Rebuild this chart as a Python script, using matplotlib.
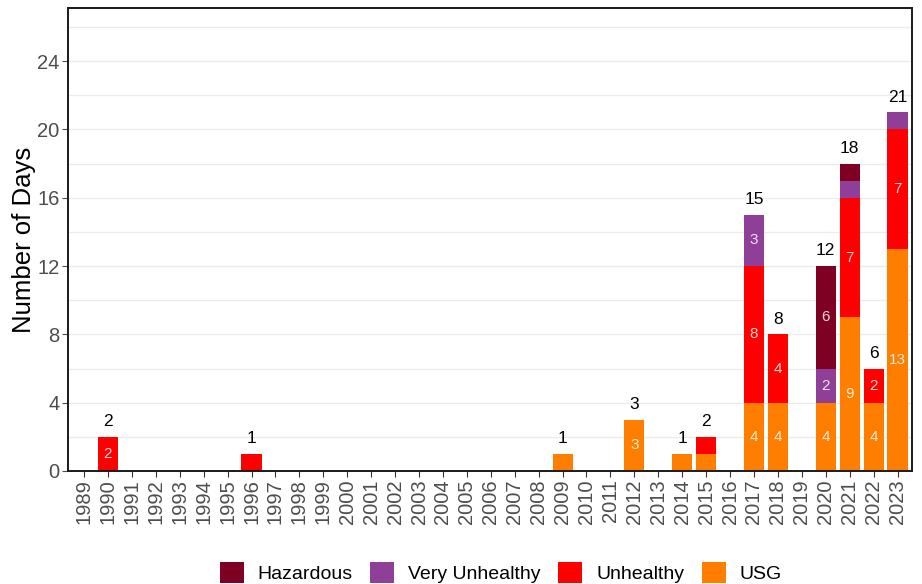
import numpy as np
import matplotlib.pyplot as plt
from matplotlib.patches import Patch

plt.rcParams['font.family'] = ['Liberation Sans', 'DejaVu Sans']

years = list(range(1989, 2024))
categories = ["USG", "Unhealthy", "Very Unhealthy", "Hazardous"]
colors = {"Hazardous": "#7E0023", "Very Unhealthy": "#8F3F97",
          "Unhealthy": "#FF0000", "USG": "#FF7E00"}

# days per year for each category (only years with any days)
usg = {2009: 1, 2012: 3, 2014: 1, 2015: 1, 2017: 4, 2018: 4, 2020: 4,
       2021: 9, 2022: 4, 2023: 13}
unhealthy = {1990: 2, 1996: 1, 2015: 1, 2017: 8, 2018: 4, 2021: 7,
             2022: 2, 2023: 7}
very_unhealthy = {2017: 3, 2020: 2, 2021: 1, 2023: 1}
hazardous = {2020: 6, 2021: 1}

series = {"USG": usg, "Unhealthy": unhealthy,
          "Very Unhealthy": very_unhealthy, "Hazardous": hazardous}

fig = plt.figure(figsize=(9.22, 5.84), dpi=100)
ax = fig.add_axes([0.0738, 0.1935, 0.9152, 0.7925])

x = np.array(years)
bottom = np.zeros(len(years))
for cat in categories:
    vals = np.array([series[cat].get(y, 0) for y in years])
    ax.bar(x, vals, width=0.84, bottom=bottom, color=colors[cat], zorder=2)
    for xi, b, v in zip(x, bottom, vals):
        if v >= 2:
            ax.text(xi, b + v / 2, str(v), ha='center', va='center',
                    color='white', alpha=0.85, fontsize=11, zorder=3)
    bottom = bottom + vals

for xi, t in zip(x, bottom):
    if t > 0:
        ax.text(xi, t + 0.45, str(int(t)), ha='center', va='bottom',
                fontsize=12.5, color='black')

ax.set_xlim(1988.33, 2023.6)
ax.set_ylim(0, 27.1)
ax.set_xticks(years)
ax.set_xticklabels([str(y) for y in years], rotation=90, fontsize=14.5,
                   color='#4d4d4d')
ax.set_yticks([0, 4, 8, 12, 16, 20, 24])
ax.set_yticks(np.arange(2, 27, 4), minor=True)
ax.tick_params(axis='y', labelsize=14.5, colors='#4d4d4d', length=4, pad=2)
ax.tick_params(axis='y', which='minor', length=0)
ax.tick_params(axis='x', length=4, colors='#333333', labelcolor='#4d4d4d',
               pad=2)
ax.grid(axis='y', which='both', color='#ebebeb', linewidth=1, zorder=0)
ax.set_axisbelow(True)
for s in ax.spines.values():
    s.set_linewidth(1.4)
    s.set_color('#1a1a1a')

ax.set_ylabel("Number of Days", fontsize=18.5, labelpad=1)

fig.text(0.54, 1.022, "Unhealthy Air Quality Days by Category",
         ha='center', va='center', fontsize=18)

order = ["Hazardous", "Very Unhealthy", "Unhealthy", "USG"]
handles = [Patch(facecolor=colors[c]) for c in order]
fig.legend(handles, order, loc='center', bbox_to_anchor=(0.543, 0.019),
           ncol=4, frameon=False, fontsize=14, handlelength=1.25,
           handleheight=1.25, columnspacing=0.9, handletextpad=0.7)

fig.savefig("out.png", dpi=100)
